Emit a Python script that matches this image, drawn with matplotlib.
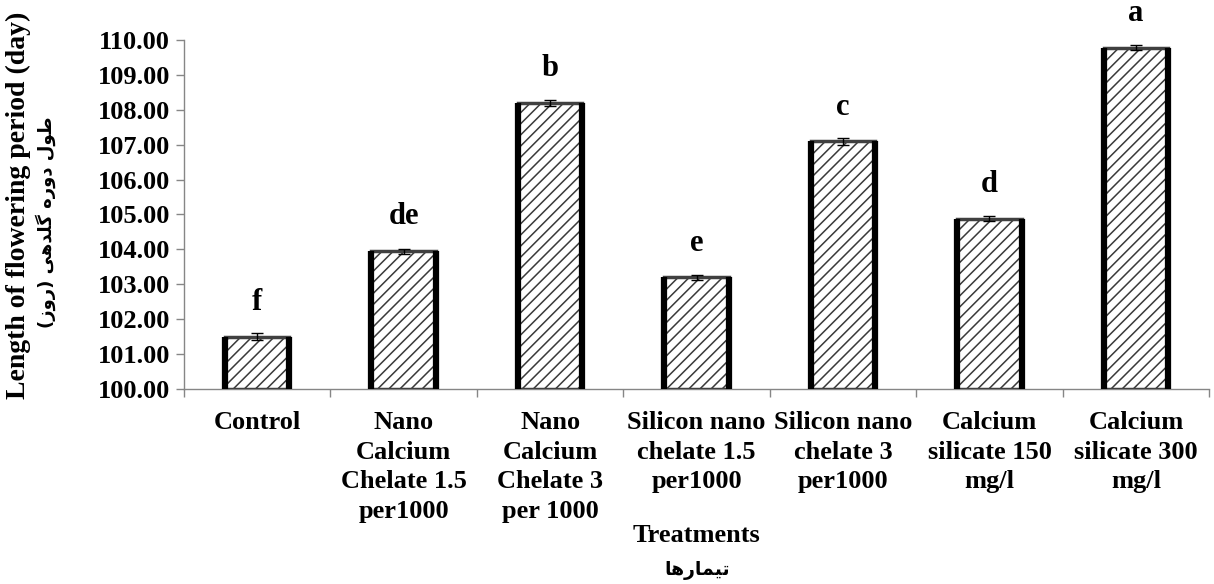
import matplotlib
matplotlib.use("Agg")
import matplotlib.pyplot as plt
import numpy as np

plt.rcParams.update({"font.family": ["Liberation Serif", "DejaVu Sans"], "font.weight": "bold",
                     "hatch.linewidth": 1.1})

categories = ["Control", "Nano\nCalcium\nChelate 1.5\nper1000", "Nano\nCalcium\nChelate 3\nper 1000",
              "Silicon nano\nchelate 1.5\nper1000", "Silicon nano\nchelate 3\nper1000",
              "Calcium\nsilicate 150\nmg/l", "Calcium\nsilicate 300\nmg/l"]
means = [101.50, 103.95, 108.20, 103.20, 107.10, 104.88, 109.78]
errors = [0.09, 0.07, 0.08, 0.07, 0.10, 0.08, 0.08]
letters = ["f", "de", "b", "e", "c", "d", "a"]
yticks = np.arange(100, 110.01, 1.0)

# Persian strings, pre-shaped (presentation forms, visual order)
FA_YLABEL = "(\uFEAF\uFEED\uFEAD) \uFEF0\uFEEB\uFEAA\uFEE0\uFB94 \uFEE9\uFEAD\uFEED\uFEA9 \uFEDD\uFEEE\uFEC3"
FA_XLABEL = "\uFE8E\uFEEB\uFEAD\uFE8E\uFEE4\uFEF4\uFE97"

fig = plt.figure(figsize=(12.14, 5.84), dpi=100)
ax = fig.add_axes([0.1516, 0.334, 0.8444, 0.5975])
x = np.arange(len(categories))
w = 0.44
heights = [m - 100 for m in means]
ax.bar(x, heights, w, bottom=100, color="white", hatch="///",
       edgecolor="#3a3a3a", linewidth=0, zorder=2)
ax.bar(x, heights, w, bottom=100, fill=False, edgecolor="#404040",
       linewidth=2.5, zorder=3)
# heavier black sides, as in the original
ax.vlines(x - w / 2, 100, means, color="black", linewidth=4.5, zorder=3.5)
ax.vlines(x + w / 2, 100, means, color="black", linewidth=4.5, zorder=3.5)
ax.errorbar(x, means, yerr=errors, fmt="none", ecolor="black", elinewidth=1.0,
            capsize=4, capthick=1.0, zorder=4)
for i, (m, l) in enumerate(zip(means, letters)):
    ax.text(i, m + 0.98, l, ha="center", va="center", fontsize=22, fontweight="bold",
            clip_on=False)

ax.set_xlim(-0.5, len(categories) - 0.5)
ax.set_ylim(100, 110)
ax.set_yticks(yticks)
ax.set_yticklabels([f"{v:.2f}" for v in yticks], fontsize=19, fontweight="bold")
ax.set_xticks(np.arange(len(categories) + 1) - 0.5)
ax.set_xticklabels([])
ax.set_xticks(x, minor=True)
ax.set_xticklabels(categories, minor=True, fontsize=19, fontweight="bold", linespacing=1.36)
ax.tick_params(axis="x", which="minor", length=0, pad=16)
ax.tick_params(axis="both", which="major", length=6, color="#868686", width=1)
ax.tick_params(axis="y", pad=4)
for s in ["top", "right"]:
    ax.spines[s].set_visible(False)
for s in ["left", "bottom"]:
    ax.spines[s].set_color("#868686")
    ax.spines[s].set_linewidth(1)

fig.text(0.574, 1 - 536 / 584, "Treatments", ha="center", va="center", fontsize=19, fontweight="bold")
fig.text(0.574, 1 - 571 / 584, FA_XLABEL, ha="center", va="center", fontsize=13.5,
         fontweight="bold", family="DejaVu Sans")
fig.text(18 / 1214, 1 - 205 / 584, "Length of flowering period (day)", rotation=90, ha="center",
         va="center", fontsize=20, fontweight="bold")
fig.text(46 / 1214, 1 - 222 / 584, FA_YLABEL, rotation=90, ha="center", va="center",
         fontsize=13, fontweight="bold", family="DejaVu Sans")

fig.savefig("out.png", dpi=100)
